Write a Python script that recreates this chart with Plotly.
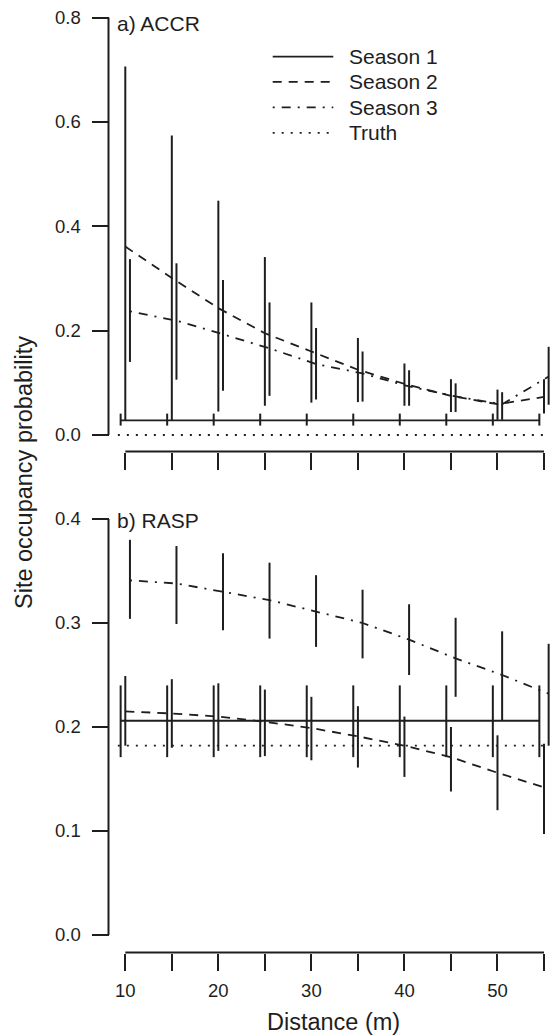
import plotly.graph_objects as go

# ---------------- data ----------------
DISTANCE = [10, 15, 20, 25, 30, 35, 40, 45, 50, 55]
X_TICKS = [10, 15, 20, 25, 30, 35, 40, 45, 50, 55]
X_TICK_LABELS = ["10", "", "20", "", "30", "", "40", "", "50", ""]
Y_TICKS_A = [0.0, 0.2, 0.4, 0.6, 0.8]
Y_TICKS_B = [0.0, 0.1, 0.2, 0.3, 0.4]
SERIES = ["Season 1", "Season 2", "Season 3", "Truth"]
PANEL_TITLES = ["a) ACCR", "b) RASP"]
X_TITLE = "Distance (m)"
Y_TITLE = "Site occupancy probability"

# panel a) ACCR
S1_A_EST = [0.028, 0.028, 0.028, 0.028, 0.028, 0.028, 0.028, 0.028, 0.028, 0.028]
S1_A_LO = [0.018, 0.018, 0.018, 0.018, 0.018, 0.018, 0.018, 0.018, 0.018, 0.018]
S1_A_HI = [0.041, 0.041, 0.041, 0.041, 0.041, 0.041, 0.041, 0.041, 0.041, 0.041]
S2_A_EST = [0.361, 0.301, 0.243, 0.195, 0.160, 0.125, 0.098, 0.075, 0.059, 0.073]
S2_A_LO = [0.028, 0.028, 0.045, 0.056, 0.062, 0.063, 0.056, 0.044, 0.029, 0.041]
S2_A_HI = [0.706, 0.574, 0.449, 0.341, 0.254, 0.186, 0.137, 0.107, 0.087, 0.107]
S3_A_EST = [0.237, 0.219, 0.193, 0.166, 0.136, 0.118, 0.093, 0.074, 0.059, 0.112]
S3_A_LO = [0.140, 0.106, 0.085, 0.075, 0.068, 0.064, 0.056, 0.044, 0.029, 0.058]
S3_A_HI = [0.337, 0.329, 0.297, 0.254, 0.205, 0.160, 0.124, 0.099, 0.082, 0.169]
TRUTH_A = 0.0

# panel b) RASP
S1_B_EST = [0.206, 0.206, 0.206, 0.206, 0.206, 0.206, 0.206, 0.206, 0.206, 0.206]
S1_B_LO = [0.171, 0.171, 0.171, 0.171, 0.171, 0.171, 0.171, 0.171, 0.171, 0.171]
S1_B_HI = [0.240, 0.240, 0.240, 0.240, 0.240, 0.240, 0.240, 0.240, 0.240, 0.240]
S2_B_EST = [0.215, 0.213, 0.210, 0.205, 0.199, 0.191, 0.182, 0.171, 0.156, 0.142]
S2_B_LO = [0.182, 0.180, 0.177, 0.172, 0.168, 0.161, 0.152, 0.138, 0.120, 0.097]
S2_B_HI = [0.249, 0.246, 0.242, 0.236, 0.229, 0.220, 0.210, 0.200, 0.192, 0.184]
S3_B_EST = [0.341, 0.338, 0.330, 0.322, 0.311, 0.300, 0.284, 0.266, 0.250, 0.232]
S3_B_LO = [0.304, 0.299, 0.293, 0.285, 0.277, 0.266, 0.250, 0.229, 0.206, 0.182]
S3_B_HI = [0.380, 0.374, 0.367, 0.358, 0.346, 0.332, 0.318, 0.305, 0.292, 0.280]
TRUTH_B = 0.182
TRUTH_X = [9.2, 55.3]

# ---------------- layout / style ----------------
W, H = 552, 1036
INK = "#1e1e1e"
FONT = "Liberation Sans, Arial, Helvetica, sans-serif"
DODGE = [-0.5, 0.0, 0.5]
DASHES = ["solid", "9px,7px", "2px,7px,9px,7px", "2px,7px"]
LW = 1.8

# pixel geometry
PX_X_FIRST, PX_X_LAST = 125.3, 544.0
PX_YAXIS = 108.5
A_ZERO, A_TOP = 435.0, 17.5
B_ZERO, B_TOP = 935.0, 519.0
A_XAXIS, B_XAXIS = 451.5, 952.5
TICKLEN = 17


def py(p):
    return 1 - p / H


def px(p):
    return p / W


xs = (PX_X_LAST - PX_X_FIRST) / (X_TICKS[-1] - X_TICKS[0])
x_range = [X_TICKS[0] - PX_X_FIRST / xs, X_TICKS[0] + (W - PX_X_FIRST) / xs]


def y_axis_geom(zero_px, top_px, top_val, dom_px):
    s = (zero_px - top_px) / top_val
    lo_px, hi_px = dom_px
    rng = [(zero_px - hi_px) / s, (zero_px - lo_px) / s]
    dom = [py(hi_px), py(lo_px)]
    return rng, dom


ya_range, ya_dom = y_axis_geom(A_ZERO, A_TOP, Y_TICKS_A[-1], (4, 446))
yb_range, yb_dom = y_axis_geom(B_ZERO, B_TOP, Y_TICKS_B[-1], (504, 946))

fig = go.Figure()

panels = [
    ("x", "y", [(S1_A_EST, S1_A_LO, S1_A_HI), (S2_A_EST, S2_A_LO, S2_A_HI),
                (S3_A_EST, S3_A_LO, S3_A_HI)], TRUTH_A),
    ("x2", "y2", [(S1_B_EST, S1_B_LO, S1_B_HI), (S2_B_EST, S2_B_LO, S2_B_HI),
                  (S3_B_EST, S3_B_LO, S3_B_HI)], TRUTH_B),
]

for xa, ya, series, truth in panels:
    fig.add_trace(go.Scatter(
        x=TRUTH_X, y=[truth, truth], mode="lines", xaxis=xa, yaxis=ya,
        line=dict(color=INK, width=LW, dash=DASHES[3]), showlegend=False,
        name=SERIES[3]))
    for i, (est, lo, hi) in enumerate(series):
        fig.add_trace(go.Scatter(
            x=[d + DODGE[i] for d in DISTANCE], y=est, mode="lines",
            xaxis=xa, yaxis=ya, name=SERIES[i], showlegend=False,
            line=dict(color=INK, width=LW, dash=DASHES[i]),
            error_y=dict(type="data", symmetric=False,
                         array=[h - e for h, e in zip(hi, est)],
                         arrayminus=[e - l for e, l in zip(est, lo)],
                         width=0, thickness=2, color=INK)))

tickfont = dict(family=FONT, size=18.5, color=INK)
common_x = dict(range=x_range, domain=[0, 1], anchor="free", tickmode="array",
                tickvals=X_TICKS, ticks="outside", ticklen=TICKLEN, tickwidth=2,
                tickcolor=INK, showline=False, showgrid=False, zeroline=False,
                tickfont=tickfont, fixedrange=True)
common_y = dict(anchor="free", position=px(PX_YAXIS), tickmode="array",
                ticks="outside", ticklen=TICKLEN, tickwidth=2, tickcolor=INK,
                showline=False, showgrid=False, zeroline=False, tickformat=".1f",
                tickfont=tickfont, ticklabelstandoff=7, fixedrange=True)

fig.update_layout(
    width=W, height=H, margin=dict(l=0, r=0, t=0, b=0),
    paper_bgcolor="white", plot_bgcolor="rgba(0,0,0,0)", showlegend=False,
    font=dict(family=FONT, color=INK),
    xaxis=dict(common_x, position=py(A_XAXIS), showticklabels=False),
    xaxis2=dict(common_x, position=py(B_XAXIS), ticktext=X_TICK_LABELS,
                ticklabelstandoff=4),
    yaxis=dict(common_y, range=ya_range, domain=ya_dom, tickvals=Y_TICKS_A),
    yaxis2=dict(common_y, range=yb_range, domain=yb_dom, tickvals=Y_TICKS_B),
)

shapes = []
# R-style detached axis lines spanning the tick range
for yref, ticks in (("y", Y_TICKS_A), ("y2", Y_TICKS_B)):
    shapes.append(dict(type="line", xref="paper", yref=yref,
                       x0=px(PX_YAXIS), x1=px(PX_YAXIS), y0=ticks[0], y1=ticks[-1],
                       line=dict(color=INK, width=2)))
for xref, pos in (("x", A_XAXIS), ("x2", B_XAXIS)):
    shapes.append(dict(type="line", xref=xref, yref="paper",
                       x0=X_TICKS[0], x1=X_TICKS[-1], y0=py(pos), y1=py(pos),
                       line=dict(color=INK, width=2)))

# legend (drawn manually to match long line samples)
LEG_X0, LEG_X1, LEG_TX = 272.7, 333.3, 347.0
LEG_ROWS = [56.7, 81.9, 107.3, 132.8]
annotations = []
for name, dash, row in zip(SERIES, DASHES, LEG_ROWS):
    shapes.append(dict(type="line", xref="paper", yref="paper",
                       x0=px(LEG_X0), x1=px(LEG_X1), y0=py(row), y1=py(row),
                       line=dict(color=INK, width=LW, dash=dash)))
    annotations.append(dict(text=name, xref="paper", yref="paper",
                            x=px(LEG_TX), y=py(row), xanchor="left", yanchor="middle",
                            showarrow=False, font=dict(family=FONT, size=21, color=INK)))

for title, yy in zip(PANEL_TITLES, (23.5, 520.5)):
    annotations.append(dict(text=title, xref="paper", yref="paper", x=px(115),
                            y=py(yy), xanchor="left", yanchor="middle",
                            showarrow=False, font=dict(family=FONT, size=21, color=INK)))

annotations.append(dict(text=X_TITLE, xref="paper", yref="paper", x=px(333),
                        y=py(1022), xanchor="center", yanchor="middle", showarrow=False,
                        font=dict(family=FONT, size=23.5, color=INK)))
annotations.append(dict(text=Y_TITLE, xref="paper", yref="paper", x=px(24),
                        y=py(473), xanchor="center", yanchor="middle", textangle=-90,
                        showarrow=False, font=dict(family=FONT, size=23.5, color=INK)))

fig.update_layout(shapes=shapes, annotations=annotations)

fig.write_html("out.html", config={"displayModeBar": False},
               post_script="document.body.style.margin='0';document.body.style.overflow='hidden';")
